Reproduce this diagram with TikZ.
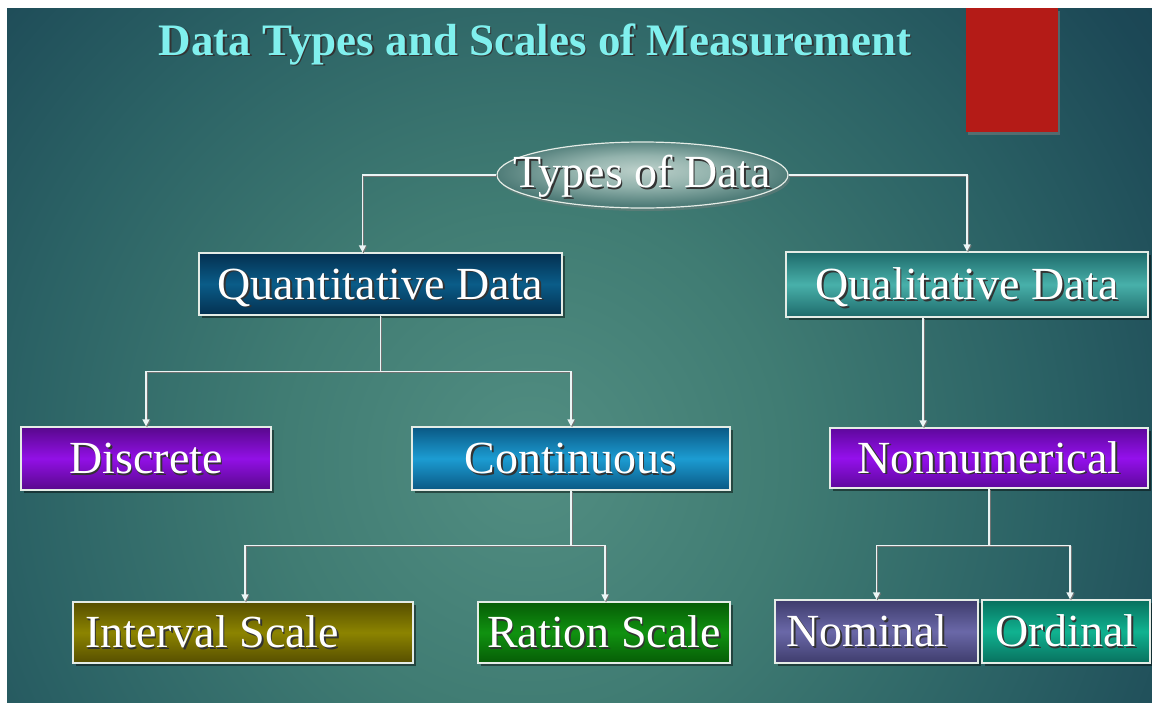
\documentclass[tikz,border=0pt]{standalone}
\usepackage{fontspec}
\setmainfont{Liberation Serif}
\usetikzlibrary{shapes.geometric,shadows,arrows.meta}

% palette
\definecolor{bg0}{HTML}{528E82}
\definecolor{bg1}{HTML}{407C73}
\definecolor{bg2}{HTML}{2B6265}
\definecolor{bg3}{HTML}{1C4856}
\definecolor{bg4}{HTML}{173F4D}
\definecolor{edge}{HTML}{E4ECE6}
\definecolor{titlecyan}{HTML}{80F0EE}
\definecolor{flag}{HTML}{B41B17}
\definecolor{ovalc}{HTML}{BCD0CA}
\definecolor{ovalm}{HTML}{93B3AD}
\definecolor{ovale}{HTML}{4F7C78}
\definecolor{quantD}{RGB}{4,48,80}      \definecolor{quantL}{RGB}{10,92,136}
\definecolor{qualD}{RGB}{30,106,106}    \definecolor{qualL}{RGB}{72,176,170}
\definecolor{discD}{RGB}{88,8,140}      \definecolor{discL}{RGB}{146,16,230}
\definecolor{contD}{RGB}{10,88,132}     \definecolor{contL}{RGB}{28,156,210}
\definecolor{nonD}{RGB}{94,8,156}       \definecolor{nonL}{RGB}{148,16,236}
\definecolor{intD}{RGB}{86,78,0}        \definecolor{intL}{RGB}{140,132,0}
\definecolor{ratD}{RGB}{6,92,6}         \definecolor{ratL}{RGB}{16,146,16}
\definecolor{nomD}{RGB}{62,60,108}      \definecolor{nomL}{RGB}{106,104,168}
\definecolor{ordD}{RGB}{8,112,94}       \definecolor{ordL}{RGB}{16,178,144}
\pgfdeclareradialshading{bgglow}{\pgfpoint{0bp}{0bp}}{%
  color(0bp)=(bg0); color(8bp)=(bg1); color(16bp)=(bg2); color(23bp)=(bg3);
  color(28bp)=(bg4); color(50bp)=(bg4)}
\pgfdeclareradialshading{ovalglow}{\pgfpoint{0bp}{4bp}}{%
  color(0bp)=(ovalc); color(12bp)=(ovalm); color(25bp)=(ovale); color(50bp)=(ovale)}

% white lettering with a dark offset shadow
\newcommand\shadowed[1]{\leavevmode\rlap{\kern1.6pt\raisebox{-1.8pt}{\color{black!80}#1}}#1}
% centred label whose caps sit on the node centre
\newcommand\clabel[1]{\raisebox{-0.33em}[0pt][0pt]{\makebox[0pt]{\shadowed{#1}}}}
% left-set label starting #1 to the left of the node centre
\newcommand\llabel[2]{\raisebox{-0.33em}[0pt][0pt]{\makebox[0pt][l]{\kern-#1\shadowed{#2}}}}
\newcommand\boxfont{\fontsize{46}{50}\selectfont}

\tikzset{
  card/.style={rectangle, draw=edge, line width=1.3pt, inner sep=0pt,
    text=white, font=\boxfont,
    drop shadow={shadow xshift=3pt, shadow yshift=-3pt, opacity=0.45, fill=black}},
  tint/.style 2 args={top color=#1, bottom color=#1, middle color=#2},
  link/.style={draw=white!92!teal, line width=1.5pt,
    preaction={draw=black!55, line width=1.5pt, transform canvas={xshift=1pt, yshift=-1pt}}},
  tolink/.style={link, -{Triangle[width=7pt,length=7pt]}},
}

\begin{document}
\begin{tikzpicture}[x=1pt,y=-1pt]
\useasboundingbox (0,0) rectangle (1152,702);
\fill[white] (0,0) rectangle (1152,702);
\begin{scope}
  \clip (7,8) rectangle (1152,702);
  \fill[bg4] (7,8) rectangle (1152,702);
  \shade[shading=bgglow] (530,460) circle (800);
\end{scope}

% title and corner flag
\node[text=titlecyan, font=\fontsize{45}{50}\selectfont\bfseries] (title) at (535,45)
  {\shadowed{Data Types and Scales of Measurement}};
\fill[flag, drop shadow={shadow xshift=2pt, shadow yshift=-3pt, opacity=0.5}]
  (966,8) rectangle (1058,132);

% root oval
\node[ellipse, draw=edge, line width=1.2pt, shading=ovalglow, minimum width=291pt,
  minimum height=66pt, inner sep=0pt, text=white, font=\boxfont,
  drop shadow={shadow xshift=2pt, shadow yshift=-3pt, opacity=0.4}] (types) at (642.5,175)
  {\raisebox{-0.28em}[0pt][0pt]{\makebox[0pt]{\shadowed{Types of Data}}}};

% boxes
\node[card, tint={quantD}{quantL}, minimum width=363pt, minimum height=62pt]
  (quant) at (380.5,284) {\clabel{Quantitative Data}};
\node[card, tint={qualD}{qualL}, minimum width=362pt, minimum height=65pt]
  (qual) at (967,284.5) {\clabel{Qualitative Data}};
\node[card, tint={discD}{discL}, minimum width=250pt, minimum height=63pt]
  (disc) at (146,458.5) {\clabel{Discrete}};
\node[card, tint={contD}{contL}, minimum width=318pt, minimum height=63pt]
  (cont) at (571,458.5) {\clabel{Continuous}};
\node[card, tint={nonD}{nonL}, minimum width=318pt, minimum height=60pt]
  (nonnum) at (989,458) {\clabel{Nonnumerical}};
\node[card, tint={intD}{intL}, minimum width=340pt, minimum height=61pt]
  (interval) at (243,632.5) {\llabel{158pt}{Interval Scale}};
\node[card, tint={ratD}{ratL}, minimum width=252pt, minimum height=61pt]
  (ration) at (604,632.5) {\clabel{Ration Scale}};
\node[card, tint={nomD}{nomL}, minimum width=203pt, minimum height=63pt]
  (nominal) at (876.5,631.5) {\llabel{90pt}{Nominal}};
\node[card, tint={ordD}{ordL}, minimum width=168pt, minimum height=63pt]
  (ordinal) at (1066,631.5) {\clabel{Ordinal}};

% connectors
\draw[tolink] (types.west) -| ([xshift=-18pt]quant.north);
\draw[tolink] (types.east) -| (qual.north);

\draw[link] (quant.south) -- ++(0,56) coordinate (qsplit);
\draw[tolink] (qsplit) -| (disc.north);
\draw[tolink] (qsplit) -| (cont.north);

\draw[link] (cont.south) -- ++(0,55) coordinate (csplit);
\draw[tolink] (csplit) -| ([xshift=2pt]interval.north);
\draw[tolink] (csplit) -| ([xshift=1pt]ration.north);

\draw[tolink] ([xshift=-44pt]qual.south) -- ([xshift=-44pt]qual.south |- nonnum.north);

\draw[link] (nonnum.south) -- ++(0,57) coordinate (nsplit);
\draw[tolink] (nsplit) -| (nominal.north);
\draw[tolink] (nsplit) -| ([xshift=4pt]ordinal.north);
\end{tikzpicture}
\end{document}
